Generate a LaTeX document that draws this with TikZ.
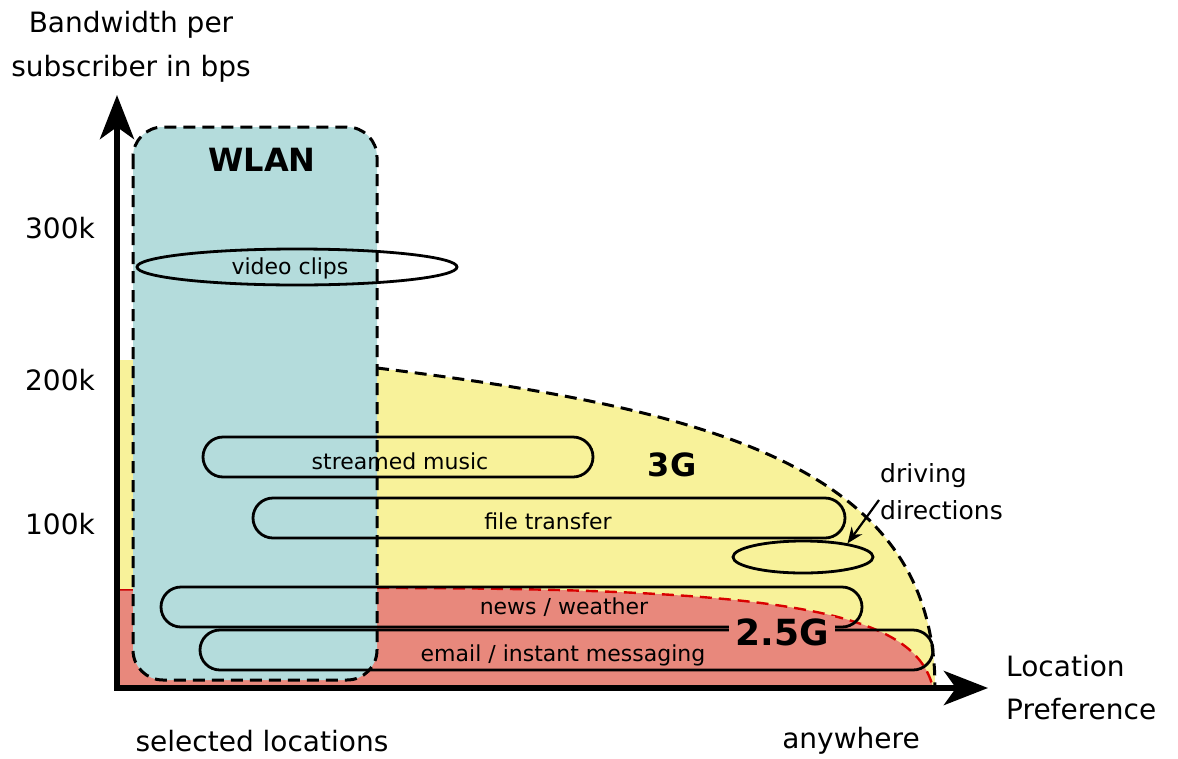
\documentclass[tikz,border=0pt]{standalone}
\usepackage{fontspec}
\setmainfont{DejaVu Sans}
\usetikzlibrary{arrows.meta,shapes.geometric}
\definecolor{wlanblue}{HTML}{B4DCDC}
\definecolor{threegyellow}{HTML}{F8F29A}
\definecolor{twofivered}{HTML}{E8887C}
\begin{document}
\begin{tikzpicture}[x=1pt,y=-1pt,
  pill/.style={draw=black, line width=2.8pt, rounded corners=20pt,
    minimum height=40pt, inner sep=0pt},
  oval/.style={draw=black, line width=2.8pt, ellipse, inner sep=0pt},
  lbl/.style={font=\fontsize{22}{24}\selectfont, inner sep=0pt},
  axislbl/.style={font=\fontsize{28}{44}\selectfont, inner sep=0pt},
  tick/.style={font=\fontsize{28}{30}\selectfont, inner sep=0pt},
  zone/.style={font=\bfseries\fontsize{32}{36}\selectfont, inner sep=0pt},
  bound/.style={dashed, dash pattern=on 12pt off 7pt, line width=3pt},
  axisline/.style={line width=6pt, -{Stealth[length=44pt, width=34pt, inset=12pt]}}
]
\useasboundingbox (0,0) rectangle (1178,758);

% 3G coverage region
\fill[threegyellow] (117,360) -- (377,360) -- (377,368)
  .. controls (720,410) and (935,470) .. (935,688) -- (117,688) -- cycle;
% 2.5G coverage region
\fill[twofivered] (117,590) -- (377,588)
  .. controls (780,588) and (915,610) .. (933,688) -- (117,688) -- cycle;
\draw[red!80!black, line width=1.5pt] (117,590) -- (377,588);
\draw[bound, red!85!black, line width=2.4pt] (377,588)
  .. controls (780,588) and (915,610) .. (933,688);
\draw[bound] (377,368) .. controls (720,410) and (935,470) .. (935,688);

% WLAN area
\fill[wlanblue, rounded corners=30pt] (133,127) rectangle (377,680);

% applications
\node[oval, minimum width=320pt, minimum height=36pt] (video) at (297,267) {};
\node[lbl] (videot) at (290,268) {video clips};
\node[pill, minimum width=390pt] (music) at (398,457) {};
\node[lbl] (musict) at (400,461) {streamed music};
\node[pill, minimum width=592pt] (file) at (549,518) {};
\node[lbl] (filet) at (548,521) {file transfer};
\node[oval, minimum width=140pt, minimum height=32pt] (drive) at (803,557) {};
\node[pill, minimum width=701pt] (news) at (511.5,607) {};
\node[lbl] (newst) at (564,607) {news / weather};
\node[pill, minimum width=733pt] (mail) at (566.5,650) {};
\node[lbl] (mailt) at (563,655) {email / instant messaging};

% WLAN border on top
\draw[bound, rounded corners=30pt] (133,127) rectangle (377,680);

% zone names
\node[zone] (wlan) at (262,160) {WLAN};
\node[zone] (g3) at (672,465) {3G};
\node[zone, fill=twofivered, inner xsep=6pt, inner ysep=2pt,
  font=\bfseries\fontsize{36}{40}\selectfont] (g25) at (782,632) {2.5G};

% driving directions callout
\node[font=\fontsize{25}{37}\selectfont, inner sep=0pt, align=left, anchor=west]
  (drivet) at (880,492) {driving\\directions};
\coordinate (callout) at (879,500);
\draw[line width=2.2pt, -{Stealth[length=16pt, width=13pt]}] (callout) -- (drive.17);

% axes
\coordinate (origin) at (117,688);
\coordinate (ytip) at (117,95);
\coordinate (xtip) at (988,688);
\draw[axisline] (origin) -- (ytip);
\draw[axisline] ([xshift=-3pt]origin) -- (xtip);

% axis labels
\node[axislbl, align=center] (ylab) at (131,47)
  {Bandwidth per\\subscriber in bps};
\node[axislbl, font=\fontsize{28}{43}\selectfont, align=left, anchor=west]
  (xlab) at (1006,688) {Location\\Preference};
\node[tick] (t300) at (60,228) {300k};
\node[tick] (t200) at (60,380) {200k};
\node[tick] (t100) at (60,524) {100k};
\node[axislbl] (sel) at (262,741) {selected locations};
\node[axislbl] (any) at (851,741) {anywhere};
\end{tikzpicture}
\end{document}
